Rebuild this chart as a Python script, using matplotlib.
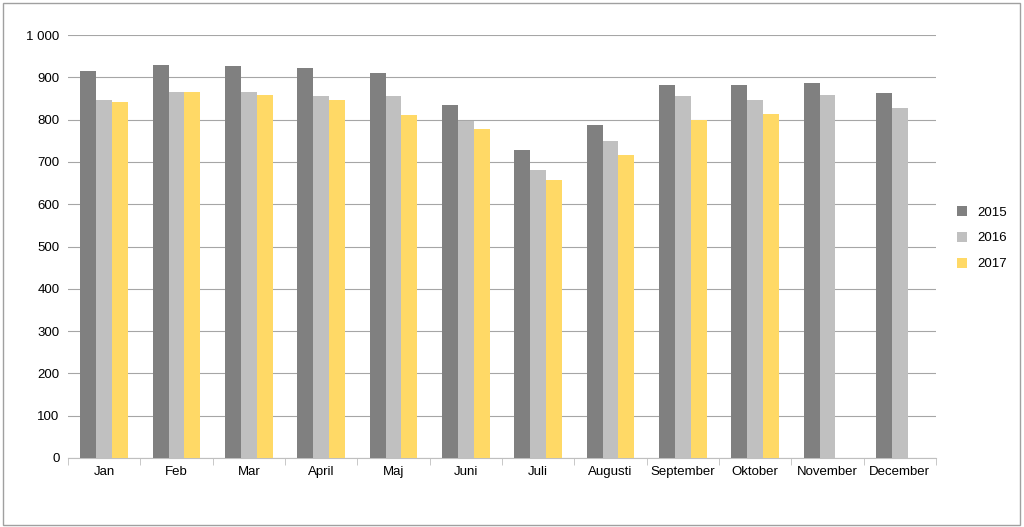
import matplotlib.pyplot as plt
import numpy as np
from matplotlib.ticker import FuncFormatter

months = ["Jan", "Feb", "Mar", "April", "Maj", "Juni", "Juli", "Augusti",
          "September", "Oktober", "November", "December"]
v2015 = [915, 929, 927, 922, 910, 834, 728, 787, 882, 882, 887, 863]
v2016 = [846, 865, 865, 856, 856, 797, 681, 749, 856, 846, 858, 827]
v2017 = [842, 865, 858, 846, 811, 778, 657, 716, 799, 813, np.nan, np.nan]

plt.rcParams["font.family"] = "Liberation Sans"
fig = plt.figure(figsize=(10.24, 5.27), dpi=100)
ax = fig.add_axes([68 / 1024, 1 - 458 / 527, (936 - 68) / 1024, (458 - 35) / 527])

x = np.arange(len(months))
w = 0.22
ax.bar(x - w, v2015, w, color="#808080", label="2015", zorder=3)
ax.bar(x, v2016, w, color="#c0c0c0", label="2016", zorder=3)
ax.bar(x + w, v2017, w, color="#ffd966", label="2017", zorder=3)

ax.set_xlim(-0.5, len(months) - 0.5)
ax.set_ylim(0, 1000)
ax.set_yticks(range(0, 1001, 100))
ax.yaxis.set_major_formatter(FuncFormatter(lambda v, p: f"{int(v):,}".replace(",", " ")))
ax.set_xticks(x)
ax.set_xticklabels(months)
ax.set_xticks(np.arange(-0.5, len(months)), minor=True)
ax.tick_params(axis="x", which="major", length=0, labelsize=9.5, pad=6)
ax.tick_params(axis="x", which="minor", length=5, color="#bfbfbf")
ax.tick_params(axis="y", length=0, labelsize=9.5, pad=6)
ax.grid(axis="y", color="#a6a6a6", linewidth=0.8, zorder=0)
for s in ["top", "right", "left"]:
    ax.spines[s].set_visible(False)
ax.spines["bottom"].set_color("#bfbfbf")

ax.legend(loc="center left", bbox_to_anchor=(1.01, 0.52), frameon=False,
          fontsize=9.5, handlelength=0.8, handleheight=0.8, labelspacing=1.0)

fig.patches.append(plt.Rectangle((0.003, 0.004), 0.993, 0.99, transform=fig.transFigure,
                                 fill=False, edgecolor="#a0a0a0", linewidth=1))
fig.savefig("out.png", dpi=100)
